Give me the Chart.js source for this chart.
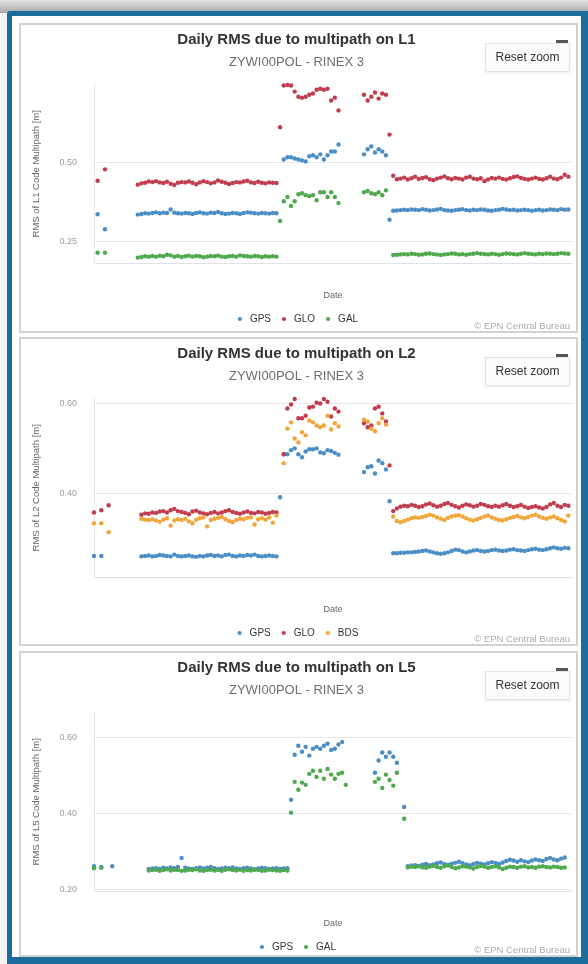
<!DOCTYPE html>
<html>
<head>
<meta charset="utf-8">
<title>Daily RMS due to multipath</title>
<script src="https://cdn.jsdelivr.net/npm/chart.js@4.4.1/dist/chart.umd.min.js"></script>
<style>
  html, body { margin: 0; padding: 0; }
  body {
    width: 588px; height: 964px; position: relative; overflow: hidden;
    background: #f3f3f3;
    font-family: "Liberation Sans", Arial, sans-serif;
  }
  .shade { position: absolute; left: 0; top: 0; width: 588px; height: 13px;
    background: linear-gradient(#e2e2e2, #a9a9a9); }
  .frame { position: absolute; left: 7px; top: 11px; width: 581px; height: 953px;
    box-sizing: border-box; background: #fff; border-radius: 3px 0 0 0;
    border-style: solid; border-color: #1c6c9e; border-width: 5px 7px 7px 5px; }
  .panel { position: absolute; left: 19px; width: 559px; box-sizing: border-box;
    border: 2px solid #d2d2d2; background: #fff; }
  .panel canvas { position: absolute; left: 0; top: 0; }
  .burger { position: absolute; left: 535px; top: 15px; width: 12px; height: 3px; background: #555; }
  .reset { position: absolute; left: 464px; top: 18px; width: 85px; height: 29px;
    box-sizing: border-box; border: 1px solid #e3e3e3; background: #fbfbfb;
    box-shadow: 0 1px 2px rgba(0,0,0,0.08);
    font-size: 12px; color: #333; line-height: 27px; text-align: center; }
  .credit { position: absolute; right: 6px; bottom: 0px; font-size: 9.5px; color: #ababab; }
</style>
</head>
<body>
<div class="shade"></div>
<div class="frame"></div>

<div class="panel" style="top:23px;height:310px;">
  <canvas id="chartL1" width="555" height="309"></canvas>
  <div class="reset">Reset zoom</div>
  <div class="burger"></div>
  <div class="credit">© EPN Central Bureau</div>
</div>
<div class="panel" style="top:337px;height:309px;">
  <canvas id="chartL2" width="555" height="309"></canvas>
  <div class="reset">Reset zoom</div>
  <div class="burger"></div>
  <div class="credit">© EPN Central Bureau</div>
</div>
<div class="panel" style="top:651px;height:306px;">
  <canvas id="chartL5" width="555" height="309"></canvas>
  <div class="reset">Reset zoom</div>
  <div class="burger"></div>
  <div class="credit">© EPN Central Bureau</div>
</div>

<script>
/* ── Data: one value per day, null = no solution ─────────── */

var dayCount = 131;
var subtitle = 'ZYWI00POL - RINEX 3';

/* L1 */
var l1Ticks = [0.25, 0.50];
var l1Gps = [
  null, 0.337, null, 0.290, null, null, null, null, null, null, null, null,
  0.336,0.338,0.340,0.339,0.341,0.343,0.340,0.342,0.341,0.352,0.342,0.340,0.339,0.341,0.340,0.338,0.341,0.343,0.340,0.339,
  0.342,0.341,0.344,0.340,0.338,0.339,0.341,0.340,0.338,0.341,0.343,0.342,0.340,0.339,0.341,0.340,0.339,0.341,0.340,
  null,
  0.509,0.516,0.516,0.512,0.509,0.506,0.503,0.519,0.522,0.516,0.525,0.509,0.522,0.534,0.534,0.556,
  null, null, null, null, null, null,
  0.525,0.541,0.550,0.531,0.541,0.534,0.522,
  0.320,
  0.348,0.349,0.350,0.351,0.350,0.352,0.351,0.350,0.353,0.351,0.349,0.350,0.352,0.354,0.350,0.349,0.348,0.350,0.351,0.353,
  0.350,0.349,0.351,0.350,0.352,0.351,0.349,0.348,0.350,0.351,0.354,0.352,0.350,0.351,0.349,0.350,0.351,0.350,0.348,0.350,
  0.351,0.349,0.350,0.352,0.351,0.350,0.353,0.351,0.352
];
var l1Glo = [
  null, 0.442, null, 0.478, null, null, null, null, null, null, null, null,
  0.430,0.434,0.436,0.440,0.438,0.441,0.437,0.435,0.439,0.433,0.429,0.436,0.438,0.437,0.440,0.436,0.431,0.437,0.441,0.438,
  0.434,0.437,0.443,0.439,0.436,0.432,0.435,0.438,0.437,0.440,0.442,0.437,0.435,0.439,0.436,0.434,0.437,0.436,0.435,
  0.610,
  0.741,0.743,0.741,0.722,0.706,0.703,0.706,0.712,0.716,0.728,0.731,0.728,0.731,0.694,0.703,0.663,
  null, null, null, null, null, null,
  0.712,0.694,0.706,0.719,0.700,0.716,0.712,
  0.587,
  0.458,0.447,0.449,0.452,0.446,0.450,0.455,0.448,0.451,0.453,0.447,0.444,0.449,0.452,0.456,0.450,0.447,0.451,0.449,0.446,
  0.452,0.455,0.449,0.447,0.450,0.441,0.446,0.451,0.449,0.452,0.448,0.446,0.450,0.454,0.456,0.451,0.448,0.446,0.449,0.452,
  0.448,0.446,0.450,0.455,0.449,0.447,0.452,0.461,0.455
];
var l1Gal = [
  null, 0.216, null, 0.216, null, null, null, null, null, null, null, null,
  0.201,0.203,0.205,0.204,0.206,0.204,0.207,0.205,0.210,0.208,0.204,0.206,0.203,0.205,0.207,0.204,0.206,0.205,0.202,0.204,
  0.206,0.205,0.207,0.204,0.203,0.205,0.206,0.204,0.208,0.206,0.205,0.204,0.206,0.205,0.203,0.205,0.204,0.205,0.204,
  0.316,
  0.378,0.391,0.363,0.378,0.400,0.403,0.397,0.394,0.397,0.381,0.406,0.406,0.391,0.406,0.391,0.372,
  null, null, null, null, null, null,
  0.406,0.410,0.403,0.400,0.406,0.397,0.412,
  null,
  0.209,0.210,0.211,0.212,0.211,0.213,0.212,0.210,0.211,0.213,0.214,0.212,0.211,0.209,0.211,0.212,0.214,0.213,0.211,0.212,
  0.210,0.212,0.213,0.215,0.213,0.212,0.211,0.213,0.212,0.210,0.212,0.214,0.213,0.212,0.211,0.213,0.215,0.213,0.212,0.211,
  0.213,0.212,0.214,0.213,0.212,0.213,0.215,0.214,0.213
];

/* L2 */
var l2Ticks = [0.40, 0.60];
var l2Gps = [
  0.260, null, 0.260, null, null, null, null, null, null, null, null, null, null,
  0.259,0.260,0.261,0.259,0.260,0.262,0.261,0.260,0.259,0.263,0.260,0.259,0.260,0.261,0.259,0.258,0.260,0.259,0.261,
  0.262,0.260,0.261,0.259,0.262,0.263,0.260,0.259,0.261,0.260,0.262,0.261,0.263,0.260,0.259,0.260,0.261,0.260,0.259,
  0.391,
  0.487,0.487,0.496,0.500,0.487,0.480,0.493,0.498,0.498,0.500,0.491,0.489,0.496,0.494,0.490,0.486,
  null, null, null, null, null, null,
  0.447,0.458,0.460,0.444,0.473,0.467,0.453,
  0.382,
  0.266,0.266,0.267,0.267,0.268,0.268,0.269,0.270,0.271,0.272,0.270,0.268,0.266,0.265,0.266,0.268,0.271,0.274,0.273,0.270,
  0.268,0.270,0.272,0.273,0.271,0.270,0.271,0.273,0.274,0.272,0.271,0.272,0.274,0.275,0.273,0.272,0.271,0.273,0.275,0.276,
  0.274,0.273,0.275,0.277,0.279,0.277,0.276,0.278,0.277
];
var l2Glo = [
  0.357, null, 0.362, null, 0.373, null, null, null, null, null, null, null, null,
  0.352,0.355,0.354,0.357,0.356,0.359,0.360,0.357,0.362,0.365,0.360,0.358,0.356,0.353,0.359,0.361,0.357,0.355,0.353,
  0.356,0.358,0.355,0.357,0.360,0.362,0.358,0.356,0.354,0.357,0.359,0.356,0.355,0.358,0.357,0.354,0.356,0.358,0.357,
  null,
  0.487,0.589,0.598,0.610,0.567,0.567,0.573,0.591,0.593,0.602,0.600,0.610,0.604,0.571,0.589,0.582,
  null, null, null, null, null, null,
  0.556,0.547,0.551,0.589,0.593,0.578,0.560,
  0.462,
  0.360,0.366,0.370,0.372,0.371,0.374,0.372,0.369,0.371,0.375,0.377,0.373,0.370,0.372,0.376,0.378,0.374,0.371,0.368,0.372,
  0.375,0.373,0.370,0.372,0.376,0.374,0.371,0.369,0.372,0.370,0.373,0.376,0.372,0.369,0.371,0.374,0.370,0.367,0.369,0.371,
  0.368,0.366,0.369,0.375,0.378,0.372,0.369,0.374,0.372
];
var l2Bds = [
  0.333, null, 0.333, null, 0.313, null, null, null, null, null, null, null, null,
  0.343,0.341,0.340,0.342,0.339,0.336,0.341,0.344,0.328,0.339,0.342,0.340,0.343,0.337,0.333,0.341,0.344,0.346,0.326,
  0.340,0.343,0.345,0.347,0.342,0.338,0.335,0.340,0.343,0.342,0.345,0.346,0.330,0.342,0.344,0.341,0.346,0.334,0.350,
  null,
  0.467,0.544,0.558,0.522,0.513,0.536,0.529,0.562,0.558,0.551,0.547,0.551,0.573,0.542,0.556,0.549,
  null, null, null, null, null, null,
  0.564,0.560,0.544,0.538,0.556,0.567,0.553,
  null,
  0.348,0.338,0.335,0.338,0.341,0.344,0.346,0.345,0.347,0.349,0.352,0.350,0.346,0.343,0.340,0.345,0.348,0.350,0.351,0.348,
  0.344,0.341,0.339,0.342,0.345,0.348,0.350,0.346,0.343,0.340,0.339,0.342,0.345,0.347,0.349,0.346,0.344,0.347,0.350,0.352,
  0.348,0.345,0.343,0.346,0.348,0.344,0.340,0.337,0.350
];

/* L5 */
var l5Ticks = [0.20, 0.40, 0.60];
var l5Gps = [
  0.262, null, 0.260, null, null, 0.262, null, null, null, null, null, null, null, null, null,
  0.255,0.256,0.257,0.255,0.258,0.256,0.259,0.257,0.260,0.284,0.258,0.256,0.255,0.257,0.259,0.256,0.258,0.260,0.257,0.255,
  0.256,0.258,0.257,0.259,0.256,0.255,0.257,0.258,0.256,0.254,0.256,0.258,0.257,0.255,0.256,0.257,0.255,0.256,0.257,
  0.437,0.555,0.579,0.563,0.576,0.553,0.571,0.576,0.571,0.579,0.584,0.568,0.571,0.582,0.589,null,
  null, null, null, null, null, null, null,
  0.508,0.540,0.561,0.550,0.561,0.550,0.534,
  null, 0.418,
  0.262,0.264,0.265,0.263,0.266,0.268,0.265,0.267,0.270,0.272,0.268,0.266,0.269,0.271,0.274,0.270,0.267,0.265,0.268,0.271,
  0.269,0.267,0.270,0.273,0.271,0.268,0.272,0.276,0.279,0.277,0.274,0.278,0.275,0.273,0.277,0.280,0.278,0.276,0.281,0.284,
  0.280,0.278,0.282,0.285,
  null
];
var l5Gal = [
  0.257, null, 0.258, null, null, null, null, null, null, null, null, null, null, null, null,
  0.251,0.252,0.253,0.250,0.252,0.254,0.251,0.253,0.252,0.250,0.251,0.253,0.252,0.254,0.251,0.250,0.252,0.253,0.251,0.252,
  0.250,0.253,0.254,0.252,0.251,0.253,0.250,0.252,0.251,0.253,0.252,0.250,0.251,0.253,0.252,0.251,0.250,0.252,0.251,
  0.403,0.484,0.463,0.482,0.476,0.505,0.513,0.497,0.513,0.492,0.518,0.503,0.492,0.505,0.508,0.476,
  null, null, null, null, null, null, null,
  0.484,0.492,0.468,0.503,0.489,0.474,0.508,
  null, 0.387,
  0.259,0.261,0.260,0.262,0.259,0.258,0.261,0.263,0.260,0.258,0.262,0.264,0.260,0.257,0.259,0.262,0.261,0.259,0.256,0.260,
  0.263,0.261,0.258,0.260,0.262,0.259,0.255,0.258,0.261,0.260,0.258,0.261,0.262,0.259,0.260,0.258,0.261,0.262,0.260,0.259,
  0.261,0.260,0.258,0.259,
  null
];

/* ── Styling ───────────────────────────────────────────── */

var gpsColor = '#4b8ec6';
var gloColor = '#c33c4e';
var galColor = '#4ea94f';
var bdsColor = '#f2a63a';
var gridColor = '#e8e8e8';
var fontFamily = "'Liberation Sans', Arial, sans-serif";

function toPoints(values) {
  return values.map(function (v, i) { return { x: i, y: v }; });
}

function buildChart(id, spec) {
  var n = spec.series.length;
  new Chart(document.getElementById(id), {
    type: 'scatter',
    data: {
      datasets: spec.series.map(function (s, k) {
        return {
          label: s.label,
          data: toPoints(s.values),
          backgroundColor: s.color,
          borderColor: s.color,
          borderWidth: 0,
          pointRadius: 2.2,
          pointHoverRadius: 3,
          order: n - k,
          clip: false
        };
      })
    },
    options: {
      responsive: false,
      animation: false,
      layout: { padding: { left: 0, right: 4, top: 0, bottom: 0 } },
      plugins: {
        title: {
          display: true,
          text: spec.title,
          color: '#333',
          font: { family: fontFamily, size: 15, weight: 'bold' },
          padding: { top: 6, bottom: 4 }
        },
        subtitle: {
          display: true,
          text: subtitle,
          color: '#6e6e6e',
          font: { family: fontFamily, size: 13 },
          padding: { top: 2, bottom: 14 }
        },
        legend: {
          position: 'bottom',
          labels: {
            usePointStyle: true,
            pointStyle: 'circle',
            boxWidth: 20,
            boxHeight: 3,
            padding: 8,
            color: '#333',
            font: { family: fontFamily, size: 10 },
            sort: function (a, b) { return a.datasetIndex - b.datasetIndex; }
          }
        },
        tooltip: { enabled: false }
      },
      scales: {
        x: {
          type: 'linear',
          min: 0,
          max: dayCount,
          ticks: { display: false },
          grid: { display: false },
          border: { display: true, color: '#dde2ea' },
          title: {
            display: true,
            text: 'Date',
            color: '#666',
            font: { family: fontFamily, size: 9 },
            padding: { top: 0, bottom: 5 }
          },
          afterFit: function (s) { s.height = 43; }
        },
        y: {
          min: spec.min,
          max: spec.max,
          afterBuildTicks: function (s) {
            s.ticks = spec.ticks.map(function (v) { return { value: v }; });
          },
          ticks: {
            color: '#9a9a9a',
            font: { family: fontFamily, size: 9 },
            padding: 17,
            callback: function (v) { return v.toFixed(2); }
          },
          grid: { color: gridColor, drawTicks: false },
          border: { display: true, color: gridColor },
          title: {
            display: true,
            text: spec.yTitle,
            color: '#666',
            font: { family: fontFamily, size: 9.5 },
            padding: { top: 10, bottom: 0 }
          },
          afterFit: function (s) { s.width = 73; }
        }
      }
    }
  });
}

/* ── Boot ───────────────────────────────────────────────── */

buildChart('chartL1', {
  title: 'Daily RMS due to multipath on L1',
  yTitle: 'RMS of L1 Code Multipath [m]',
  min: 0.184, max: 0.744, ticks: l1Ticks,
  series: [
    { label: 'GPS', values: l1Gps, color: gpsColor },
    { label: 'GLO', values: l1Glo, color: gloColor },
    { label: 'GAL', values: l1Gal, color: galColor }
  ]
});

buildChart('chartL2', {
  title: 'Daily RMS due to multipath on L2',
  yTitle: 'RMS of L2 Code Multipath [m]',
  min: 0.213, max: 0.611, ticks: l2Ticks,
  series: [
    { label: 'GPS', values: l2Gps, color: gpsColor },
    { label: 'GLO', values: l2Glo, color: gloColor },
    { label: 'BDS', values: l2Bds, color: bdsColor }
  ]
});

buildChart('chartL5', {
  title: 'Daily RMS due to multipath on L5',
  yTitle: 'RMS of L5 Code Multipath [m]',
  min: 0.197, max: 0.666, ticks: l5Ticks,
  series: [
    { label: 'GPS', values: l5Gps, color: gpsColor },
    { label: 'GAL', values: l5Gal, color: galColor }
  ]
});
</script>
</body>
</html>
